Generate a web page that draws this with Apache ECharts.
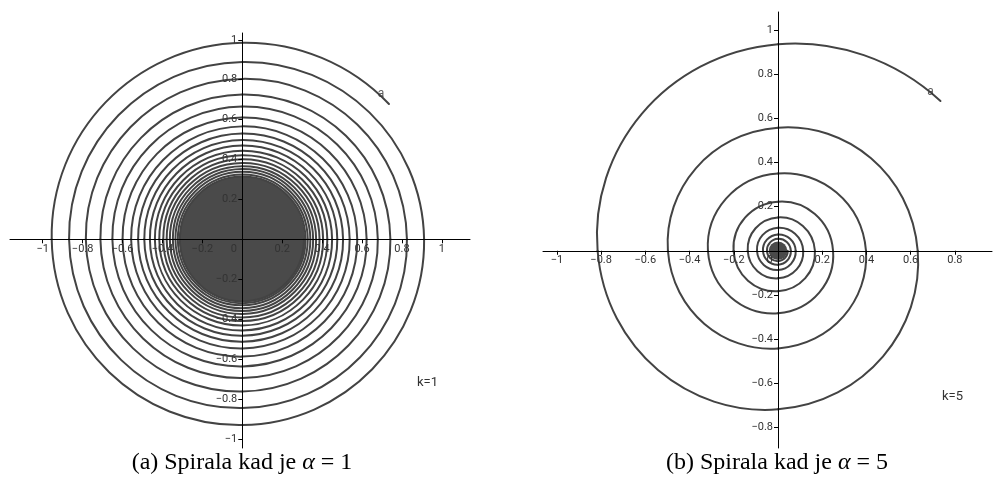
<!DOCTYPE html>
<html><head><meta charset="utf-8">
<script src="https://cdn.jsdelivr.net/npm/echarts@6/dist/echarts.min.js"></script>
<style>html,body{margin:0;padding:0;background:#fff}#c{width:993px;height:494px}</style>
</head><body><div id="c"></div>
<script>
// ---- tick labels ----
const leftTicksX  = [-1, -0.8, -0.6, -0.4, -0.2, 0, 0.2, 0.4, 0.6, 0.8, 1];
const leftTicksY  = [-1, -0.8, -0.6, -0.4, -0.2, 0.2, 0.4, 0.6, 0.8, 1];
const rightTicksX = [-1, -0.8, -0.6, -0.4, -0.2, 0, 0.2, 0.4, 0.6, 0.8];
const rightTicksY = [-0.8, -0.6, -0.4, -0.2, 0.2, 0.4, 0.6, 0.8, 1];

// ---- spiral readings: radius at the free end, then at every quarter turn (90°,180°,270°,360°,...) ----
const endAngleDeg = 42.7;
const leftEndRadius = 1.0;
const leftRadii = [
  0.985, 0.955, 0.931, 0.911,
  0.889, 0.868, 0.846, 0.825,
  0.804, 0.784, 0.763, 0.742,
  0.726, 0.711, 0.695, 0.679,
  0.665, 0.651, 0.637, 0.623,
  0.611, 0.600, 0.588, 0.576,
  0.566, 0.557, 0.547, 0.538,
  0.530, 0.522, 0.513, 0.505,
  0.498, 0.491, 0.483, 0.476,
  0.470, 0.463, 0.457, 0.450,
  0.444, 0.438, 0.432, 0.426,
  0.421, 0.416, 0.410, 0.405,
  0.401, 0.396, 0.392, 0.387,
  0.383, 0.379, 0.374, 0.370,
  0.366, 0.363, 0.359, 0.355,
  0.352, 0.348, 0.345, 0.341,
  0.338, 0.335, 0.331, 0.328,
  0.325, 0.323, 0.320, 0.317,
  0.315, 0.313, 0.311, 0.309
];
const leftCoreRadius = 0.315;

const rightEndRadius = 1.0;
const rightRadii = [
  0.935, 0.816, 0.718, 0.632,
  0.557, 0.498, 0.442, 0.398,
  0.350, 0.317, 0.283, 0.249,
  0.222, 0.201, 0.183, 0.167,
  0.151, 0.137, 0.125, 0.114,
  0.104, 0.095, 0.087, 0.080,
  0.074, 0.068, 0.063, 0.058,
  0.054, 0.050, 0.047, 0.044
];
const rightCoreRadius = 0.042;

const leftLabel = 'k=1';
const rightLabel = 'k=5';
const curveName = 'a';

// ---- segments [r1, θ1, r2, θ2] between successive readings ----
function spiralSegments(endR, radii) {
  const rs = [endR].concat(radii);
  const ts = rs.map((_, i) => i === 0 ? endAngleDeg * Math.PI / 180 : i * Math.PI / 2);
  const segs = [];
  for (let i = 0; i < rs.length - 1; i++) segs.push([rs[i], ts[i], rs[i + 1], ts[i + 1]]);
  return segs;
}
function endPoint(endR) {
  const a = endAngleDeg * Math.PI / 180;
  return [endR * Math.cos(a), endR * Math.sin(a)];
}
const lineColor = '#434343';
const spiralRender = (params, api) => {
  const r1 = api.value(0), t1 = api.value(1), r2 = api.value(2), t2 = api.value(3);
  const d = t2 - t1, b = Math.log(r2 / r1) / d, h = 4 / 3 * Math.tan(d / 4);
  const p1 = [r1 * Math.cos(t1), r1 * Math.sin(t1)];
  const p2 = [r2 * Math.cos(t2), r2 * Math.sin(t2)];
  const T1 = [r1 * (b * Math.cos(t1) - Math.sin(t1)), r1 * (b * Math.sin(t1) + Math.cos(t1))];
  const T2 = [r2 * (b * Math.cos(t2) - Math.sin(t2)), r2 * (b * Math.sin(t2) + Math.cos(t2))];
  const P1 = api.coord(p1), P2 = api.coord(p2);
  const C1 = api.coord([p1[0] + h * T1[0], p1[1] + h * T1[1]]);
  const C2 = api.coord([p2[0] - h * T2[0], p2[1] - h * T2[1]]);
  return { type: 'bezierCurve',
    shape: { x1: P1[0], y1: P1[1], x2: P2[0], y2: P2[1], cpx1: C1[0], cpy1: C1[1], cpx2: C2[0], cpy2: C2[1] },
    style: { stroke: lineColor, lineWidth: 2, fill: 'none', lineCap: 'round' } };
};
const coreRender = (params, api) => {
  const c = api.coord([api.value(0), api.value(1)]);
  const rr = api.size([api.value(2), 0])[0];
  return { type: 'circle', shape: { cx: c[0], cy: c[1], r: rr }, style: { fill: '#4a4a4a' } };
};

const fmt = v => v === 0 ? '{z|0}' : (v < 0 ? '\u2212' : '') + Math.abs(v);
const labelFont = { fontFamily: 'Roboto', fontSize: 11, color: '#333' };

const grids = [
  { left: 10, top: 33, width: 460, height: 415, xr: [-1.164, 1.141], yr: [-1.046, 1.034] },
  { left: 543, top: 12, width: 449, height: 436, xr: [-1.063, 0.968], yr: [-0.893, 1.081] }
];
function xAxisCfg(gi, ticks) {
  const g = grids[gi];
  const zeroFromBottom = (0 - g.yr[0]) / (g.yr[1] - g.yr[0]) * g.height;
  return {
    type: 'value', gridIndex: gi, min: g.xr[0], max: g.xr[1], z: 5, position: 'bottom', offset: -zeroFromBottom,
    axisLine: { onZero: false, lineStyle: { color: '#000', width: 1 } },
    axisTick: { show: true, length: 4, customValues: ticks, lineStyle: { color: '#000' } },
    axisLabel: Object.assign({ customValues: ticks, margin: 4, formatter: fmt, hideOverlap: false,
      rich: { z: { fontFamily: 'Roboto', fontSize: 11, color: '#333', padding: [0, 17, 0, 0] } } }, labelFont),
    splitLine: { show: false }
  };
}
function yAxisCfg(gi, ticks) {
  const g = grids[gi];
  const zeroFromLeft = (0 - g.xr[0]) / (g.xr[1] - g.xr[0]) * g.width;
  return {
    type: 'value', gridIndex: gi, min: g.yr[0], max: g.yr[1], z: 5, position: 'left', offset: -zeroFromLeft,
    axisLine: { onZero: false, lineStyle: { color: '#000', width: 1 } },
    axisTick: { show: true, length: 4, customValues: ticks, lineStyle: { color: '#000' } },
    axisLabel: Object.assign({ customValues: ticks, margin: 5, formatter: fmt, hideOverlap: false }, labelFont),
    splitLine: { show: false }
  };
}

const chart = echarts.init(document.getElementById('c'), null, { renderer: 'canvas' });
chart.setOption({
  backgroundColor: '#fff',
  animation: false,
  grid: grids.map(g => ({ left: g.left, top: g.top, width: g.width, height: g.height, containLabel: false, outerBoundsMode: 'none' })),
  xAxis: [xAxisCfg(0, leftTicksX), xAxisCfg(1, rightTicksX)],
  yAxis: [yAxisCfg(0, leftTicksY), yAxisCfg(1, rightTicksY)],
  series: [
    { type: 'custom', xAxisIndex: 0, yAxisIndex: 0, renderItem: coreRender, data: [[0, 0, leftCoreRadius]], z: 1, silent: true },
    { type: 'custom', xAxisIndex: 0, yAxisIndex: 0, renderItem: spiralRender, data: spiralSegments(leftEndRadius, leftRadii), z: 2, silent: true },
    { type: 'scatter', xAxisIndex: 0, yAxisIndex: 0, data: [endPoint(leftEndRadius)], symbolSize: 0, z: 3,
      label: { show: true, formatter: curveName, position: 'inside', offset: [-8, -10], fontFamily: 'Roboto', fontSize: 12, color: '#333' } },
    { type: 'custom', xAxisIndex: 1, yAxisIndex: 1, renderItem: coreRender, data: [[0, 0, rightCoreRadius]], z: 1, silent: true },
    { type: 'custom', xAxisIndex: 1, yAxisIndex: 1, renderItem: spiralRender, data: spiralSegments(rightEndRadius, rightRadii), z: 2, silent: true },
    { type: 'scatter', xAxisIndex: 1, yAxisIndex: 1, data: [endPoint(rightEndRadius)], symbolSize: 0, z: 3,
      label: { show: true, formatter: curveName, position: 'inside', offset: [-10, -9], fontFamily: 'Roboto', fontSize: 12, color: '#333' } }
  ],
  graphic: [
    { type: 'text', x: 417, y: 383, style: { text: leftLabel, font: '13px Roboto', fill: '#333', verticalAlign: 'middle' } },
    { type: 'text', x: 942, y: 397, style: { text: rightLabel, font: '13px Roboto', fill: '#333', verticalAlign: 'middle' } },
    { type: 'text', x: 242, y: 463, style: { text: '{n|(a) Spirala kad je }{i|\u03b1}{n| = 1}', align: 'center', verticalAlign: 'middle',
      rich: { n: { fontFamily: 'Liberation Serif', fontSize: 24, fill: '#000' }, i: { fontFamily: 'Liberation Serif', fontStyle: 'italic', fontSize: 24, fill: '#000' } } } },
    { type: 'text', x: 777, y: 463, style: { text: '{n|(b) Spirala kad je }{i|\u03b1}{n| = 5}', align: 'center', verticalAlign: 'middle',
      rich: { n: { fontFamily: 'Liberation Serif', fontSize: 24, fill: '#000' }, i: { fontFamily: 'Liberation Serif', fontStyle: 'italic', fontSize: 24, fill: '#000' } } } }
  ]
});
</script></body></html>
